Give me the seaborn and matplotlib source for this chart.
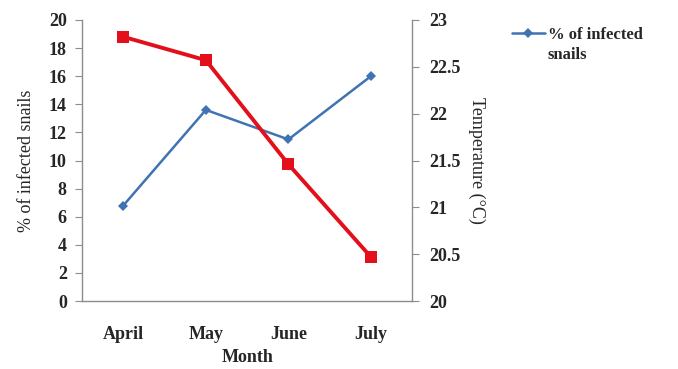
import matplotlib
matplotlib.use("Agg")
import matplotlib.pyplot as plt
import seaborn as sns
import pandas as pd

months = ["April", "May", "June", "July"]
infected_pct = [6.8, 13.6, 11.5, 16.0]
temperature_c = [22.82, 22.57, 21.46, 20.47]

sns.set_style("white")
plt.rcParams["font.family"] = ["Liberation Serif", "DejaVu Serif"]

df = pd.DataFrame({"Month": months, "infected": infected_pct, "temp": temperature_c})
df["pos"] = range(len(months))

blue = "#3F73B2"
red = "#E3101C"
axis_gray = "#8C8C8C"

fig = plt.figure(figsize=(6.78, 3.69), dpi=100)
ax = fig.add_axes([0.121, 0.184, 0.487, 0.762])
ax2 = ax.twinx()

sns.lineplot(data=df, x="pos", y="infected", ax=ax, color=blue, lw=1.8,
             marker="D", markersize=5, markeredgewidth=0,
             label="% of infected", legend=False, zorder=3)
sns.lineplot(data=df, x="pos", y="temp", ax=ax2, color=red, lw=2.8,
             marker="s", markersize=9, markeredgewidth=0, legend=False, zorder=3)

ax.set_xlim(-0.5, 3.5)
ax.set_ylim(0, 20)
ax.set_yticks(range(0, 21, 2))
ax2.set_ylim(20, 23)
ax2.set_yticks([20, 20.5, 21, 21.5, 22, 22.5, 23])
ax2.set_yticklabels(["20", "20.5", "21", "21.5", "22", "22.5", "23"])

ax.set_xticks(range(len(months)))
ax.set_xticklabels(months)
ax.set_xticks([0.5, 1.5, 2.5], minor=True)
ax.tick_params(axis="x", which="major", length=0, pad=18)
ax.tick_params(axis="x", which="minor", length=5, color=axis_gray, direction="out")
ax.tick_params(axis="y", length=5, color=axis_gray, direction="out", pad=6)
ax2.tick_params(axis="y", length=5, color=axis_gray, direction="out", pad=7)

for lab in ax.get_xticklabels() + ax.get_yticklabels() + ax2.get_yticklabels():
    lab.set_fontweight("bold")
    lab.set_fontsize(13)

for a in (ax, ax2):
    for s in a.spines.values():
        s.set_color(axis_gray)
        s.set_linewidth(1.0)
    a.spines["top"].set_visible(False)
ax2.spines["left"].set_visible(False)
ax2.spines["bottom"].set_visible(False)
ax.spines["right"].set_visible(False)

ax.set_xlabel("Month", fontsize=13, fontweight="bold", labelpad=4)
ax.set_ylabel("% of infected snails", fontsize=13, labelpad=10)
ax2.set_ylabel("Temperature (°C)", fontsize=13, rotation=270, labelpad=18)

# Legend entry for the infection series; its label wraps onto a second line
handles, labels = ax.get_legend_handles_labels()
leg = fig.legend(handles, labels, loc="upper left", bbox_to_anchor=(0.745, 0.945),
                 frameon=False, prop={"weight": "bold", "size": 12},
                 handlelength=2.0, handletextpad=0.15, borderaxespad=0)
fig.canvas.draw()
first_line = leg.get_texts()[0]
bb = first_line.get_window_extent().transformed(fig.transFigure.inverted())
fig.text(bb.x0, bb.y0 - 0.012, "snails", fontsize=12, fontweight="bold",
         ha="left", va="top")

fig.savefig("out.png", dpi=100)
